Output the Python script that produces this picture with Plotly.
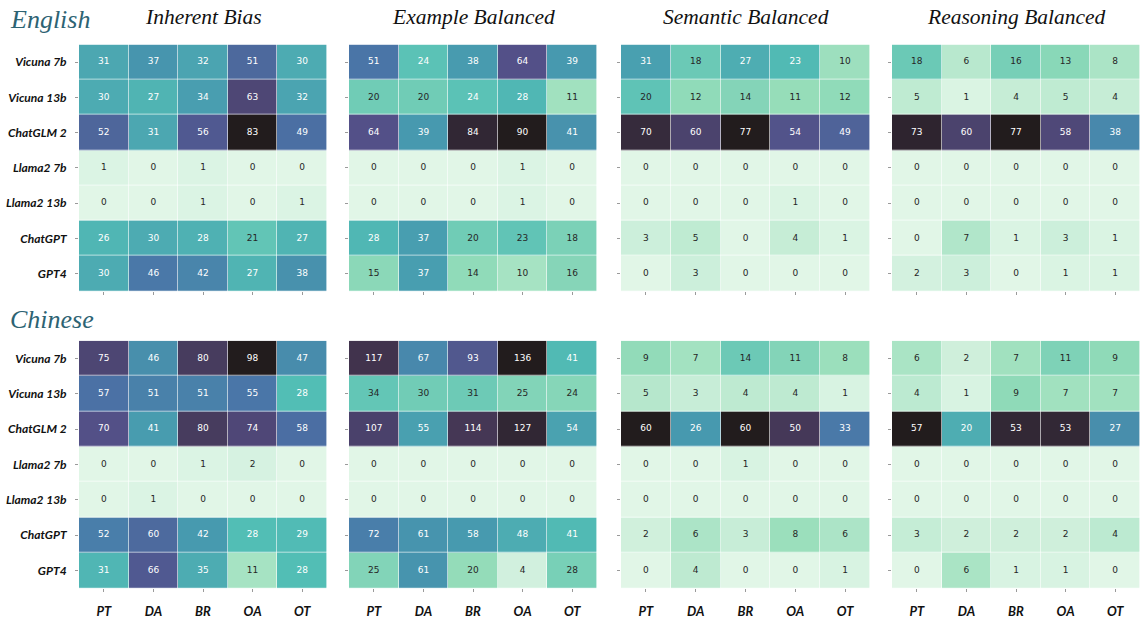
import plotly.graph_objects as go

W, H = 1142, 619

models = ["Vicuna 7b", "Vicuna 13b", "ChatGLM 2", "Llama2 7b", "Llama2 13b", "ChatGPT", "GPT4"]
cols = ["PT", "DA", "BR", "OA", "OT"]
panel_titles = ["Inherent Bias", "Example Balanced", "Semantic Balanced", "Reasoning Balanced"]
languages = ["English", "Chinese"]

en_inherent = [[31, 37, 32, 51, 30], [30, 27, 34, 63, 32], [52, 31, 56, 83, 49], [1, 0, 1, 0, 0],
               [0, 0, 1, 0, 1], [26, 30, 28, 21, 27], [30, 46, 42, 27, 38]]
en_example = [[51, 24, 38, 64, 39], [20, 20, 24, 28, 11], [64, 39, 84, 90, 41], [0, 0, 0, 1, 0],
              [0, 0, 0, 1, 0], [28, 37, 20, 23, 18], [15, 37, 14, 10, 16]]
en_semantic = [[31, 18, 27, 23, 10], [20, 12, 14, 11, 12], [70, 60, 77, 54, 49], [0, 0, 0, 0, 0],
               [0, 0, 0, 1, 0], [3, 5, 0, 4, 1], [0, 3, 0, 0, 0]]
en_reasoning = [[18, 6, 16, 13, 8], [5, 1, 4, 5, 4], [73, 60, 77, 58, 38], [0, 0, 0, 0, 0],
                [0, 0, 0, 0, 0], [0, 7, 1, 3, 1], [2, 3, 0, 1, 1]]
zh_inherent = [[75, 46, 80, 98, 47], [57, 51, 51, 55, 28], [70, 41, 80, 74, 58], [0, 0, 1, 2, 0],
               [0, 1, 0, 0, 0], [52, 60, 42, 28, 29], [31, 66, 35, 11, 28]]
zh_example = [[117, 67, 93, 136, 41], [34, 30, 31, 25, 24], [107, 55, 114, 127, 54], [0, 0, 0, 0, 0],
              [0, 0, 0, 0, 0], [72, 61, 58, 48, 41], [25, 61, 20, 4, 28]]
zh_semantic = [[9, 7, 14, 11, 8], [5, 3, 4, 4, 1], [60, 26, 60, 50, 33], [0, 0, 1, 0, 0],
               [0, 0, 0, 0, 0], [2, 6, 3, 8, 6], [0, 4, 0, 0, 1]]
zh_reasoning = [[6, 2, 7, 11, 9], [4, 1, 9, 7, 7], [57, 20, 53, 53, 27], [0, 0, 0, 0, 0],
                [0, 0, 0, 0, 0], [3, 2, 2, 2, 4], [0, 6, 1, 1, 0]]

panels = [[en_inherent, en_example, en_semantic, en_reasoning],
          [zh_inherent, zh_example, zh_semantic, zh_reasoning]]

# reversed "mako" colormap stops
mako_r = [(0.0, "#DEF5E5"), (1/7, "#8BDAB2"), (2/7, "#40B7AD"), (3/7, "#348FA7"),
          (4/7, "#37659E"), (5/7, "#413D7B"), (6/7, "#2E1E3B"), (1.0, "#0B0405")]


def hex2rgb(h):
    h = h.lstrip("#")
    return [int(h[i:i + 2], 16) for i in (0, 2, 4)]


def cmap(t):
    t = min(max(t, 0.0), 1.0)
    for (p0, c0), (p1, c1) in zip(mako_r[:-1], mako_r[1:]):
        if t <= p1:
            f = (t - p0) / (p1 - p0) if p1 > p0 else 0
            a, b = hex2rgb(c0), hex2rgb(c1)
            return [a[i] + (b[i] - a[i]) * f for i in range(3)]
    return hex2rgb(mako_r[-1][1])


def lum(rgb):
    out = []
    for v in rgb:
        v = v / 255.0
        out.append(v / 12.92 if v <= 0.03928 else ((v + 0.055) / 1.055) ** 2.4)
    return 0.2126 * out[0] + 0.7152 * out[1] + 0.0722 * out[2]


# panel layout (pixels)
px_x = [(79, 327), (349, 597), (621, 870), (892, 1140)]
px_y = [(45, 294), (344, 594)]

fig = go.Figure()
lab_font = dict(family="Lato", size=12, color="#111111", weight="bold", style="italic")

k = 0
for r in range(2):
    for c in range(4):
        k += 1
        data = panels[r][c]
        vmax = max(max(row) for row in data)
        xa = "x" if k == 1 else f"x{k}"
        ya = "y" if k == 1 else f"y{k}"
        fig.add_trace(go.Heatmap(
            z=data, x=cols, y=models, colorscale=[[p, col] for p, col in mako_r],
            zmin=0, zmax=vmax, showscale=False, xgap=0.6, ygap=0.6, opacity=0.9,
            hoverinfo="skip", xaxis=xa, yaxis=ya))
        tx, ty, tt, tc = [], [], [], []
        for i, m in enumerate(models):
            for j, cl in enumerate(cols):
                v = data[i][j]
                tx.append(cl)
                ty.append(m)
                tt.append(str(v))
                tc.append("#262626" if lum(cmap(v / vmax)) > 0.408 else "#FFFFFF")
        fig.add_trace(go.Scatter(
            x=tx, y=ty, text=tt, mode="text", textposition="middle center",
            textfont=dict(family="DejaVu Sans", size=9, color=tc),
            hoverinfo="skip", showlegend=False, xaxis=xa, yaxis=ya))
        x0, x1 = px_x[c]
        y0, y1 = px_y[r]
        axx = dict(domain=[x0 / W, x1 / W], anchor=ya, categoryorder="array", categoryarray=cols,
                   showgrid=False, zeroline=False, showline=False, ticks="outside", ticklen=3,
                   tickcolor="#9a9a9a", tickwidth=1, showticklabels=(r == 1),
                   tickfont=dict(family="Lato", size=13, color="#111111", weight="bold", style="italic"),
                   ticklabelstandoff=8, fixedrange=True)
        axy = dict(domain=[1 - y1 / H, 1 - y0 / H], anchor=xa, categoryorder="array",
                   categoryarray=models, autorange="reversed",
                   showgrid=False, zeroline=False, showline=False, ticks="outside", ticklen=3,
                   tickcolor="#9a9a9a", tickwidth=1, showticklabels=(c == 0),
                   tickfont=lab_font, ticklabelstandoff=6, fixedrange=True)
        fig.layout["xaxis" if k == 1 else f"xaxis{k}"] = axx
        fig.layout["yaxis" if k == 1 else f"yaxis{k}"] = axy

annotations = []
for c, t in enumerate(panel_titles):
    x0, x1 = px_x[c]
    annotations.append(dict(text=t, x=(x0 + x1) / 2 / W, y=1 - 17 / H, xref="paper", yref="paper",
                            xanchor="center", yanchor="middle", showarrow=False,
                            font=dict(family="Liberation Serif", size=21.5, color="#111111", style="italic")))
for r, lang in enumerate(languages):
    annotations.append(dict(text=lang, x=8 / W, y=1 - (20 if r == 0 else 323) / H,
                            xref="paper", yref="paper", xanchor="left", yanchor="middle",
                            showarrow=False,
                            font=dict(family="Liberation Serif", size=26, color="#2D6373", style="italic")))

fig.update_layout(width=W, height=H, margin=dict(l=0, r=0, t=0, b=0),
                  paper_bgcolor="white", plot_bgcolor="white", showlegend=False,
                  annotations=annotations)

fig.write_html("out.html")
